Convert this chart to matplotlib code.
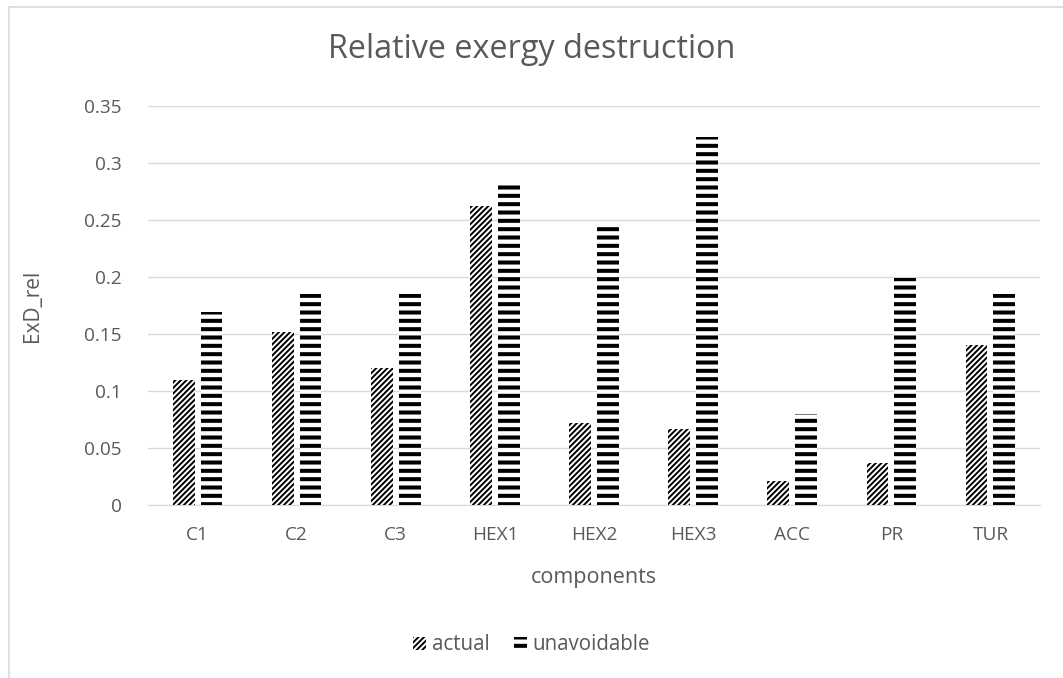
import numpy as np
import matplotlib.pyplot as plt
from matplotlib.lines import Line2D

plt.rcParams['font.family'] = ['Open Sans', 'DejaVu Sans']

components = ['C1', 'C2', 'C3', 'HEX1', 'HEX2', 'HEX3', 'ACC', 'PR', 'TUR']
actual = [0.110, 0.152, 0.120, 0.262, 0.072, 0.067, 0.021, 0.037, 0.140]
unavoidable = [0.169, 0.185, 0.185, 0.283, 0.246, 0.323, 0.080, 0.199, 0.185]
yticks = [0, 0.05, 0.1, 0.15, 0.2, 0.25, 0.3, 0.35]
ytick_labels = ['0', '0.05', '0.1', '0.15', '0.2', '0.25', '0.3', '0.35']

grey = '#595959'
x = np.arange(len(components))

fig = plt.figure(figsize=(10.63, 6.78), dpi=100)
ax = fig.add_axes([148 / 1063, 1 - 505 / 678, 892 / 1063, 399 / 678])

# hatch linewidth is picked up when the bars are made
with plt.rc_context({'hatch.linewidth': 1.4}):
    b1 = ax.bar(x - 0.14, actual, 0.22, color='white', edgecolor='black',
                linewidth=0, hatch='//////', label='actual', zorder=3)
with plt.rc_context({'hatch.linewidth': 2.9}):
    b2 = ax.bar(x + 0.14, unavoidable, 0.22, color='white', edgecolor='black',
                linewidth=0, hatch='--', label='unavoidable', zorder=3)

ax.set_xlim(-0.5, len(components) - 0.5)
ax.set_ylim(0, 0.35)
ax.set_yticks(yticks)
ax.set_yticklabels(ytick_labels)
ax.set_xticks(x)
ax.set_xticklabels(components)
ax.tick_params(length=0, colors=grey, labelsize=13.7)
ax.tick_params(axis='y', pad=19)
ax.tick_params(axis='x', pad=15)
ax.yaxis.grid(True, color='#d9d9d9', linewidth=1, zorder=0)
for s in ['top', 'right', 'left']:
    ax.spines[s].set_visible(False)
ax.spines['bottom'].set_color('#d9d9d9')

ax.set_xlabel('components', color=grey, fontsize=15.5, va='center')
ax.xaxis.set_label_coords(0.5, (505 - 577) / 399)
ax.set_ylabel('ExD_rel', color=grey, fontsize=15, va='center')
ax.yaxis.set_label_coords((33 - 148) / 892, 0.5)
fig.text(0.5, 1 - 50 / 678, 'Relative exergy destruction', ha='center', va='center',
         color=grey, fontsize=23.3)

leg = fig.legend(loc='center', bbox_to_anchor=(0.5, 1 - 645 / 678), ncol=2, frameon=False,
                 fontsize=14.8, handlelength=0.65, handleheight=0.6, columnspacing=1.2,
                 handletextpad=0.25)
for t in leg.get_texts():
    t.set_color(grey)
for h, lw in zip(leg.legend_handles, [1.4, 2.9]):
    if hasattr(h, 'set_hatch_linewidth'):
        h.set_hatch_linewidth(lw)
    elif hasattr(h, '_hatch_linewidth'):
        h._hatch_linewidth = lw

# chart border (only left and top visible in the original)
fig.add_artist(Line2D([8.5 / 1063, 8.5 / 1063], [0, 1 - 6.5 / 678],
                      transform=fig.transFigure, color='#d9d9d9', linewidth=1.2))
fig.add_artist(Line2D([8.5 / 1063, 1], [1 - 6.5 / 678, 1 - 6.5 / 678],
                      transform=fig.transFigure, color='#d9d9d9', linewidth=1.2))

fig.savefig('out.png', dpi=100)
